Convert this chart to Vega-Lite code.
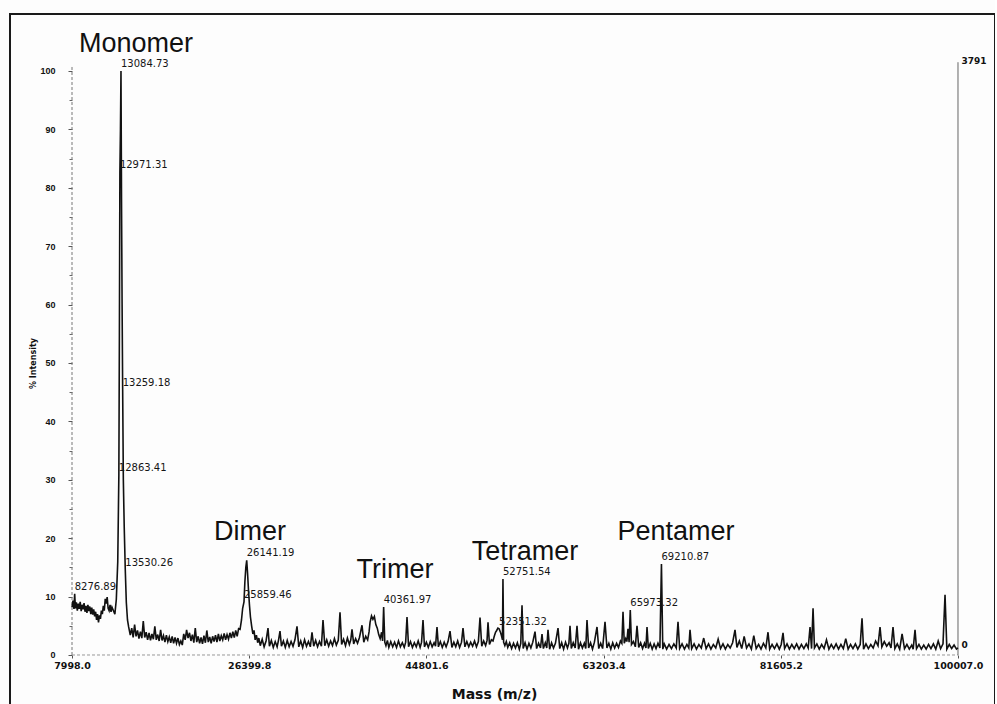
{
  "$schema": "https://vega.github.io/schema/vega-lite/v6.json",
  "width": 985,
  "height": 692,
  "autosize": "none",
  "padding": {"left": 10, "top": 14, "right": 0, "bottom": 0},
  "background": "#fdfdfd",
  "config": {
    "view": {"stroke": "#1a1a1a", "strokeWidth": 2},
    "axis": {"grid": false, "domain": false}
  },
  "datasets": {
    "spectrum": [
      {"mass":8000,"intensity":8.2},{"mass":8100,"intensity":9.3},{"mass":8200,"intensity":7.9},{"mass":8276.89,"intensity":10.5},{"mass":8350,"intensity":8.0},{"mass":8450,"intensity":9.0},{"mass":8550,"intensity":7.6},{"mass":8650,"intensity":8.8},{"mass":8750,"intensity":7.9},{"mass":8850,"intensity":9.1},{"mass":8950,"intensity":7.5},{"mass":9050,"intensity":8.6},{"mass":9150,"intensity":7.8},{"mass":9250,"intensity":8.9},{"mass":9350,"intensity":7.4},{"mass":9450,"intensity":8.4},{"mass":9550,"intensity":7.2},{"mass":9650,"intensity":8.6},{"mass":9750,"intensity":7.5},{"mass":9850,"intensity":8.3},{"mass":9950,"intensity":7.0},{"mass":10050,"intensity":8.1},{"mass":10150,"intensity":6.9},{"mass":10250,"intensity":7.8},{"mass":10350,"intensity":6.6},{"mass":10450,"intensity":7.4},{"mass":10550,"intensity":6.0},{"mass":10650,"intensity":7.0},{"mass":10750,"intensity":5.6},{"mass":10850,"intensity":6.8},{"mass":10950,"intensity":6.2},{"mass":11050,"intensity":7.6},{"mass":11150,"intensity":7.0},{"mass":11250,"intensity":8.4},{"mass":11350,"intensity":7.6},{"mass":11450,"intensity":9.6},{"mass":11550,"intensity":8.8},{"mass":11650,"intensity":9.9},{"mass":11750,"intensity":8.0},{"mass":11850,"intensity":7.6},{"mass":11950,"intensity":8.6},{"mass":12050,"intensity":7.4},{"mass":12150,"intensity":8.2},{"mass":12250,"intensity":7.8},
      {"mass":12450,"intensity":7.0},{"mass":12600,"intensity":9.5},{"mass":12750,"intensity":16},{"mass":12863.41,"intensity":30.8},{"mass":12920,"intensity":55},{"mass":12971.31,"intensity":82.7},{"mass":13030,"intensity":90},{"mass":13084.73,"intensity":100},{"mass":13140,"intensity":78},{"mass":13200,"intensity":60},{"mass":13259.18,"intensity":45.4},{"mass":13330,"intensity":30},{"mass":13420,"intensity":22},{"mass":13530.26,"intensity":14.6},{"mass":13640,"intensity":9},{"mass":13760,"intensity":6},{"mass":13880,"intensity":4.8},
      {"mass":14050,"intensity":3.4},{"mass":14200,"intensity":4.6},{"mass":14350,"intensity":3.0},{"mass":14500,"intensity":5.2},{"mass":14650,"intensity":3.2},{"mass":14800,"intensity":4.2},{"mass":14950,"intensity":2.8},{"mass":15100,"intensity":4.0},{"mass":15250,"intensity":2.9},{"mass":15400,"intensity":5.8},{"mass":15550,"intensity":3.0},{"mass":15700,"intensity":3.9},{"mass":15850,"intensity":2.6},{"mass":16000,"intensity":3.8},{"mass":16150,"intensity":2.5},{"mass":16300,"intensity":3.6},{"mass":16450,"intensity":2.7},{"mass":16600,"intensity":4.9},{"mass":16750,"intensity":2.6},{"mass":16900,"intensity":3.5},{"mass":17050,"intensity":2.4},{"mass":17200,"intensity":4.3},{"mass":17350,"intensity":2.5},{"mass":17500,"intensity":3.3},{"mass":17650,"intensity":2.2},{"mass":17800,"intensity":3.4},{"mass":17950,"intensity":2.3},{"mass":18100,"intensity":3.1},{"mass":18250,"intensity":2.1},{"mass":18400,"intensity":3.2},{"mass":18550,"intensity":2.0},{"mass":18700,"intensity":3.0},{"mass":18850,"intensity":2.0},{"mass":19000,"intensity":2.9},{"mass":19150,"intensity":1.8},{"mass":19300,"intensity":2.4},{"mass":19450,"intensity":1.7},{"mass":19600,"intensity":3.6},{"mass":19750,"intensity":2.6},{"mass":19900,"intensity":4.3},{"mass":20050,"intensity":2.9},{"mass":20200,"intensity":3.8},{"mass":20350,"intensity":2.4},{"mass":20500,"intensity":3.5},{"mass":20650,"intensity":2.1},{"mass":20800,"intensity":4.6},{"mass":20950,"intensity":2.2},{"mass":21100,"intensity":3.2},{"mass":21250,"intensity":2.0},{"mass":21400,"intensity":3.0},{"mass":21550,"intensity":1.9},{"mass":21700,"intensity":3.3},{"mass":21850,"intensity":2.1},{"mass":22000,"intensity":4.2},{"mass":22150,"intensity":2.2},{"mass":22300,"intensity":3.1},{"mass":22450,"intensity":2.0},{"mass":22600,"intensity":3.2},{"mass":22750,"intensity":2.3},{"mass":22900,"intensity":3.4},{"mass":23050,"intensity":2.2},{"mass":23200,"intensity":3.6},{"mass":23350,"intensity":2.4},{"mass":23500,"intensity":3.3},{"mass":23650,"intensity":2.6},{"mass":23800,"intensity":3.7},{"mass":23950,"intensity":2.6},{"mass":24100,"intensity":3.5},{"mass":24250,"intensity":2.7},{"mass":24400,"intensity":3.8},{"mass":24550,"intensity":2.9},{"mass":24700,"intensity":4.0},{"mass":24850,"intensity":3.0},{"mass":25000,"intensity":4.2},{"mass":25150,"intensity":3.2},{"mass":25300,"intensity":4.5},
      {"mass":25450,"intensity":4.4},{"mass":25600,"intensity":6.0},{"mass":25720,"intensity":8.0},{"mass":25859.46,"intensity":9.1},{"mass":25950,"intensity":12.5},{"mass":26050,"intensity":15.0},{"mass":26141.19,"intensity":16.2},{"mass":26230,"intensity":14.0},{"mass":26330,"intensity":11.0},{"mass":26430,"intensity":8.5},{"mass":26530,"intensity":6.5},{"mass":26650,"intensity":5.0},{"mass":26780,"intensity":3.6},{"mass":26900,"intensity":4.2},{"mass":27020,"intensity":2.6},{"mass":27150,"intensity":3.4},{"mass":27280,"intensity":2.1},{"mass":27400,"intensity":2.9},
      {"mass":27550,"intensity":1.6},{"mass":27750,"intensity":2.7},{"mass":27950,"intensity":1.4},{"mass":28150,"intensity":2.4},{"mass":28352,"intensity":4.6},{"mass":28500,"intensity":1.5},{"mass":28700,"intensity":2.5},{"mass":28900,"intensity":1.3},{"mass":29100,"intensity":2.3},{"mass":29300,"intensity":1.4},{"mass":29450,"intensity":2.6},{"mass":29598,"intensity":4.1},{"mass":29750,"intensity":1.5},{"mass":29950,"intensity":2.4},{"mass":30150,"intensity":1.3},{"mass":30350,"intensity":2.5},{"mass":30550,"intensity":1.4},{"mass":30750,"intensity":2.3},{"mass":30950,"intensity":1.5},{"mass":31150,"intensity":2.6},{"mass":31364,"intensity":4.9},{"mass":31550,"intensity":1.4},{"mass":31750,"intensity":2.4},{"mass":31950,"intensity":1.3},{"mass":32150,"intensity":2.6},{"mass":32350,"intensity":1.5},{"mass":32550,"intensity":2.3},{"mass":32750,"intensity":1.4},{"mass":32922,"intensity":3.9},{"mass":33100,"intensity":1.5},{"mass":33300,"intensity":2.5},{"mass":33500,"intensity":1.4},{"mass":33700,"intensity":2.3},{"mass":33900,"intensity":1.5},{"mass":34064,"intensity":6.0},{"mass":34250,"intensity":1.6},{"mass":34450,"intensity":2.6},{"mass":34650,"intensity":1.5},{"mass":34850,"intensity":2.4},{"mass":35050,"intensity":1.6},{"mass":35250,"intensity":2.8},{"mass":35450,"intensity":1.7},{"mass":35650,"intensity":2.5},{"mass":35830,"intensity":7.3},{"mass":36000,"intensity":1.8},{"mass":36200,"intensity":2.7},{"mass":36400,"intensity":1.6},{"mass":36600,"intensity":2.9},{"mass":36800,"intensity":1.8},{"mass":36950,"intensity":2.6},{"mass":37076,"intensity":4.4},{"mass":37250,"intensity":1.9},{"mass":37450,"intensity":2.8},{"mass":37650,"intensity":2.0},{"mass":37850,"intensity":3.0},{"mass":38115,"intensity":5.1},{"mass":38300,"intensity":2.2},{"mass":38500,"intensity":3.2},{"mass":38700,"intensity":2.6},
      {"mass":38850,"intensity":4.0},{"mass":38950,"intensity":5.6},{"mass":39100,"intensity":6.7},{"mass":39250,"intensity":6.1},{"mass":39400,"intensity":6.6},{"mass":39550,"intensity":5.2},{"mass":39700,"intensity":4.6},{"mass":39850,"intensity":3.5},{"mass":40000,"intensity":2.8},{"mass":40150,"intensity":3.9},{"mass":40250,"intensity":2.4},{"mass":40361.97,"intensity":8.2},{"mass":40480,"intensity":2.2},{"mass":40600,"intensity":1.6},{"mass":40750,"intensity":2.5},{"mass":40900,"intensity":1.3},
      {"mass":41100,"intensity":2.3},{"mass":41300,"intensity":1.4},{"mass":41500,"intensity":2.2},{"mass":41700,"intensity":1.3},{"mass":41900,"intensity":2.4},{"mass":42100,"intensity":1.4},{"mass":42300,"intensity":2.1},{"mass":42500,"intensity":1.3},{"mass":42650,"intensity":2.2},{"mass":42788,"intensity":6.5},{"mass":42950,"intensity":1.4},{"mass":43150,"intensity":2.3},{"mass":43350,"intensity":1.3},{"mass":43550,"intensity":2.1},{"mass":43750,"intensity":1.4},{"mass":43950,"intensity":2.4},{"mass":44150,"intensity":1.3},{"mass":44300,"intensity":2.2},{"mass":44450,"intensity":6.0},{"mass":44600,"intensity":1.4},{"mass":44800,"intensity":2.2},{"mass":45000,"intensity":1.3},{"mass":45200,"intensity":2.3},{"mass":45400,"intensity":1.4},{"mass":45600,"intensity":2.1},{"mass":45750,"intensity":1.5},{"mass":45903,"intensity":4.8},{"mass":46050,"intensity":1.4},{"mass":46250,"intensity":2.3},{"mass":46450,"intensity":1.3},{"mass":46650,"intensity":2.2},{"mass":46850,"intensity":1.4},{"mass":47050,"intensity":2.3},{"mass":47253,"intensity":4.1},{"mass":47450,"intensity":1.3},{"mass":47650,"intensity":2.2},{"mass":47850,"intensity":1.4},{"mass":48050,"intensity":2.4},{"mass":48250,"intensity":1.3},{"mass":48450,"intensity":2.2},{"mass":48603,"intensity":4.6},{"mass":48800,"intensity":1.4},{"mass":49000,"intensity":2.3},{"mass":49200,"intensity":1.4},{"mass":49400,"intensity":2.2},{"mass":49600,"intensity":1.5},{"mass":49800,"intensity":2.4},{"mass":50000,"intensity":1.4},{"mass":50200,"intensity":2.3},{"mass":50369,"intensity":6.4},{"mass":50550,"intensity":1.5},{"mass":50750,"intensity":2.4},{"mass":50950,"intensity":1.6},{"mass":51100,"intensity":2.5},{"mass":51200,"intensity":5.6},{"mass":51350,"intensity":1.8},{"mass":51550,"intensity":2.6},
      {"mass":51720,"intensity":2.4},{"mass":51850,"intensity":3.2},{"mass":51980,"intensity":3.9},{"mass":52100,"intensity":4.2},{"mass":52230,"intensity":4.6},{"mass":52351.32,"intensity":4.5},{"mass":52470,"intensity":4.0},{"mass":52600,"intensity":3.3},{"mass":52700,"intensity":2.6},{"mass":52751.54,"intensity":13.0},{"mass":52820,"intensity":2.2},{"mass":52950,"intensity":1.6},{"mass":53100,"intensity":2.3},{"mass":53250,"intensity":1.3},
      {"mass":53450,"intensity":2.1},{"mass":53650,"intensity":1.1},{"mass":53850,"intensity":2.0},{"mass":54050,"intensity":1.2},{"mass":54250,"intensity":2.1},{"mass":54450,"intensity":1.0},{"mass":54600,"intensity":2.0},{"mass":54731,"intensity":8.5},{"mass":54850,"intensity":1.1},{"mass":55050,"intensity":2.1},{"mass":55250,"intensity":1.0},{"mass":55450,"intensity":2.0},{"mass":55650,"intensity":1.2},{"mass":55850,"intensity":2.2},{"mass":56081,"intensity":4.0},{"mass":56250,"intensity":1.1},{"mass":56450,"intensity":2.0},{"mass":56650,"intensity":1.2},{"mass":56808,"intensity":3.6},{"mass":56950,"intensity":1.1},{"mass":57150,"intensity":2.1},{"mass":57300,"intensity":1.2},{"mass":57430,"intensity":4.3},{"mass":57600,"intensity":1.0},{"mass":57800,"intensity":2.1},{"mass":58000,"intensity":1.2},{"mass":58200,"intensity":2.0},{"mass":58469,"intensity":4.6},{"mass":58650,"intensity":1.1},{"mass":58850,"intensity":2.1},{"mass":59050,"intensity":1.0},{"mass":59250,"intensity":2.2},{"mass":59450,"intensity":1.2},{"mass":59600,"intensity":2.0},{"mass":59715,"intensity":5.0},{"mass":59850,"intensity":1.1},{"mass":60050,"intensity":2.1},{"mass":60250,"intensity":1.2},{"mass":60442,"intensity":5.0},{"mass":60600,"intensity":1.0},{"mass":60800,"intensity":2.1},{"mass":61000,"intensity":1.2},{"mass":61200,"intensity":2.0},{"mass":61350,"intensity":1.1},{"mass":61480,"intensity":6.0},{"mass":61650,"intensity":1.2},{"mass":61850,"intensity":2.1},{"mass":62050,"intensity":1.0},{"mass":62250,"intensity":2.2},{"mass":62519,"intensity":4.8},{"mass":62700,"intensity":1.1},{"mass":62900,"intensity":2.0},{"mass":63100,"intensity":1.1},{"mass":63350,"intensity":5.7},{"mass":63550,"intensity":1.2},{"mass":63750,"intensity":2.0},{"mass":63950,"intensity":1.0},{"mass":64150,"intensity":2.1},{"mass":64350,"intensity":1.2},{"mass":64550,"intensity":2.0},{"mass":64750,"intensity":1.3},{"mass":64950,"intensity":2.4},{"mass":65100,"intensity":2.0},{"mass":65219,"intensity":7.4},{"mass":65350,"intensity":2.0},{"mass":65500,"intensity":2.8},{"mass":65620,"intensity":2.3},{"mass":65738,"intensity":4.5},{"mass":65850,"intensity":2.2},{"mass":65973.32,"intensity":7.7},{"mass":66100,"intensity":1.8},{"mass":66300,"intensity":2.3},{"mass":66500,"intensity":1.4},{"mass":66673,"intensity":5.0},{"mass":66850,"intensity":1.3},{"mass":67050,"intensity":2.1},{"mass":67250,"intensity":1.1},{"mass":67450,"intensity":2.0},{"mass":67600,"intensity":1.2},{"mass":67712,"intensity":4.8},{"mass":67850,"intensity":1.1},{"mass":68050,"intensity":2.0},{"mass":68250,"intensity":1.0},{"mass":68450,"intensity":1.9},{"mass":68650,"intensity":1.1},{"mass":68850,"intensity":2.0},{"mass":69050,"intensity":1.2},{"mass":69210.87,"intensity":15.6},{"mass":69350,"intensity":1.0},
      {"mass":69500,"intensity":1.9},{"mass":69750,"intensity":1.0},{"mass":70000,"intensity":1.8},{"mass":70250,"intensity":1.1},{"mass":70500,"intensity":1.9},{"mass":70750,"intensity":1.2},{"mass":70931,"intensity":5.7},{"mass":71100,"intensity":1.1},{"mass":71350,"intensity":1.9},{"mass":71600,"intensity":1.0},{"mass":71850,"intensity":1.8},{"mass":72050,"intensity":1.2},{"mass":72177,"intensity":4.3},{"mass":72350,"intensity":1.1},{"mass":72600,"intensity":1.9},{"mass":72850,"intensity":1.0},{"mass":73100,"intensity":1.8},{"mass":73350,"intensity":1.2},{"mass":73600,"intensity":2.9},{"mass":73850,"intensity":1.1},{"mass":74100,"intensity":1.9},{"mass":74350,"intensity":1.0},{"mass":74600,"intensity":1.8},{"mass":74850,"intensity":1.2},{"mass":75100,"intensity":2.7},{"mass":75350,"intensity":1.1},{"mass":75600,"intensity":1.9},{"mass":75850,"intensity":1.0},{"mass":76100,"intensity":1.8},{"mass":76350,"intensity":1.2},{"mass":76600,"intensity":2.1},{"mass":76850,"intensity":4.3},{"mass":77050,"intensity":1.3},{"mass":77300,"intensity":2.4},{"mass":77550,"intensity":1.1},{"mass":77800,"intensity":3.2},{"mass":78050,"intensity":1.2},{"mass":78300,"intensity":1.9},{"mass":78550,"intensity":1.0},{"mass":78800,"intensity":3.3},{"mass":79050,"intensity":1.1},{"mass":79300,"intensity":1.8},{"mass":79550,"intensity":1.0},{"mass":79800,"intensity":2.0},{"mass":80050,"intensity":1.2},{"mass":80278,"intensity":3.9},{"mass":80450,"intensity":1.0},{"mass":80700,"intensity":1.8},{"mass":80950,"intensity":1.1},{"mass":81200,"intensity":1.9},{"mass":81450,"intensity":1.0},{"mass":81650,"intensity":1.8},{"mass":81836,"intensity":3.8},{"mass":82000,"intensity":1.1},{"mass":82250,"intensity":1.9},{"mass":82500,"intensity":1.0},{"mass":82750,"intensity":1.8},{"mass":83000,"intensity":1.1},{"mass":83250,"intensity":1.9},{"mass":83500,"intensity":1.0},{"mass":83750,"intensity":1.8},{"mass":84000,"intensity":1.1},{"mass":84250,"intensity":1.9},{"mass":84450,"intensity":1.2},{"mass":84642,"intensity":4.8},{"mass":84800,"intensity":1.1},{"mass":84954,"intensity":8.0},{"mass":85100,"intensity":1.2},{"mass":85350,"intensity":1.9},{"mass":85600,"intensity":1.0},{"mass":85850,"intensity":1.8},{"mass":86100,"intensity":1.1},{"mass":86350,"intensity":2.6},{"mass":86600,"intensity":1.0},{"mass":86850,"intensity":1.8},{"mass":87100,"intensity":1.1},{"mass":87350,"intensity":1.9},{"mass":87600,"intensity":1.0},{"mass":87850,"intensity":1.8},{"mass":88100,"intensity":1.1},{"mass":88350,"intensity":2.8},{"mass":88600,"intensity":1.0},{"mass":88850,"intensity":1.8},{"mass":89100,"intensity":1.1},{"mass":89350,"intensity":1.9},{"mass":89600,"intensity":1.0},{"mass":89850,"intensity":1.8},{"mass":90040,"intensity":6.3},{"mass":90200,"intensity":1.0},{"mass":90450,"intensity":1.9},{"mass":90700,"intensity":1.1},{"mass":90950,"intensity":1.8},{"mass":91200,"intensity":1.2},{"mass":91450,"intensity":2.4},{"mass":91700,"intensity":1.6},{"mass":91909,"intensity":4.8},{"mass":92100,"intensity":1.4},{"mass":92350,"intensity":2.3},{"mass":92600,"intensity":1.5},{"mass":92850,"intensity":2.1},{"mass":93050,"intensity":1.2},{"mass":93259,"intensity":4.8},{"mass":93450,"intensity":1.1},{"mass":93700,"intensity":1.9},{"mass":93950,"intensity":1.0},{"mass":94200,"intensity":3.6},{"mass":94450,"intensity":1.1},{"mass":94700,"intensity":1.8},{"mass":94950,"intensity":1.0},{"mass":95200,"intensity":1.7},{"mass":95350,"intensity":1.0},{"mass":95544,"intensity":4.3},{"mass":95700,"intensity":1.1},{"mass":95950,"intensity":1.8},{"mass":96200,"intensity":1.0},{"mass":96450,"intensity":1.7},{"mass":96700,"intensity":1.0},{"mass":96950,"intensity":1.8},{"mass":97200,"intensity":1.1},{"mass":97450,"intensity":1.9},{"mass":97700,"intensity":1.0},{"mass":97950,"intensity":2.4},{"mass":98200,"intensity":1.1},{"mass":98450,"intensity":1.9},{"mass":98660,"intensity":10.3},{"mass":98850,"intensity":1.0},{"mass":99100,"intensity":1.8},{"mass":99350,"intensity":1.1},{"mass":99600,"intensity":1.7},{"mass":99850,"intensity":1.0},{"mass":100000,"intensity":1.2}
    ],
    "peaks": [
      {"mass":13084.73,"intensity":100,"label":"13084.73"},
      {"mass":12971.31,"intensity":82.7,"label":"12971.31"},
      {"mass":13259.18,"intensity":45.4,"label":"13259.18"},
      {"mass":12863.41,"intensity":30.8,"label":"12863.41"},
      {"mass":13530.26,"intensity":14.6,"label":"13530.26"},
      {"mass":8276.89,"intensity":10.5,"label":"8276.89"},
      {"mass":26141.19,"intensity":16.2,"label":"26141.19"},
      {"mass":25859.46,"intensity":9.1,"label":"25859.46"},
      {"mass":40361.97,"intensity":8.2,"label":"40361.97"},
      {"mass":52751.54,"intensity":13.0,"label":"52751.54"},
      {"mass":52351.32,"intensity":4.5,"label":"52351.32"},
      {"mass":69210.87,"intensity":15.6,"label":"69210.87"},
      {"mass":65973.32,"intensity":7.7,"label":"65973.32"}
    ],
    "species": [
      {"species":"Monomer","mass":14644,"intensity":103.25},
      {"species":"Dimer","mass":26483,"intensity":19.69},
      {"species":"Trimer","mass":41541,"intensity":13.18},
      {"species":"Tetramer","mass":55042,"intensity":16.27},
      {"species":"Pentamer","mass":70724,"intensity":19.69}
    ]
  },
  "encoding": {
    "x": {
      "field": "mass",
      "type": "quantitative",
      "scale": {"domain": [1559.4, 103849.4], "nice": false, "zero": false},
      "axis": {
        "orient": "bottom",
        "offset": -51,
        "values": [7998.0, 26399.8, 44801.6, 63203.4, 81605.2, 100007.0],
        "format": ".1f",
        "tickSize": 3,
        "tickColor": "#555",
        "labelFont": "DejaVu Sans",
        "labelFontWeight": "bold",
        "labelFontSize": 9.5,
        "labelColor": "#111",
        "labelPadding": 2,
        "labelFlush": false,
        "labelOverlap": false,
        "title": "Mass (m/z)",
        "titleFont": "DejaVu Sans",
        "titleFontWeight": "bold",
        "titleFontSize": 14,
        "titleColor": "#111",
        "titleX": 484,
        "titleY": 39,
        "titleBaseline": "middle"
      }
    }
  },
  "layer": [
    {
      "data": {"values": [{"mass": 7998, "low": 0, "high": 101}]},
      "mark": {"type": "rule", "stroke": "#777", "strokeWidth": 1, "strokeDash": [3, 2]},
      "encoding": {
        "y": {
          "field": "low", "type": "quantitative",
          "scale": {"domain": [-8.733, 109.76], "nice": false, "zero": false},
          "axis": {"orient": "left", "offset": -62, "values": [5, 15, 25, 35, 45, 55, 65, 75, 85, 95], "labels": false, "tickSize": 3, "tickColor": "#666", "title": null}
        },
        "y2": {"field": "high"}
      }
    },
    {
      "data": {"values": [{"mass": 7998, "end": 100007, "intensity": 0}]},
      "mark": {"type": "rule", "stroke": "#999", "strokeWidth": 1, "strokeDash": [3, 2]},
      "encoding": {
        "x2": {"field": "end"},
        "y": {"field": "intensity", "type": "quantitative", "scale": {"domain": [-8.733, 109.76], "nice": false, "zero": false}, "axis": null}
      }
    },
    {
      "data": {"values": [{"mass": 100007, "low": 0, "high": 3848}]},
      "mark": {"type": "rule", "stroke": "#666", "strokeWidth": 1},
      "encoding": {
        "y": {
          "field": "low", "type": "quantitative",
          "scale": {"domain": [-331.1, 4161.0], "nice": false, "zero": false},
          "axis": {"orient": "right", "offset": -38, "values": [0, 3791], "format": "d", "tickSize": 0, "labelPadding": 4, "labelOffset": -10, "labelFont": "DejaVu Sans", "labelFontWeight": "bold", "labelFontSize": 9, "labelColor": "#111", "labelFlush": false, "title": null}
        },
        "y2": {"field": "high"}
      }
    },
    {
      "data": {"name": "spectrum"},
      "mark": {"type": "line", "stroke": "#111", "strokeWidth": 1.6, "strokeJoin": "miter", "interpolate": "linear"},
      "encoding": {
        "y": {
          "field": "intensity", "type": "quantitative",
          "scale": {"domain": [-8.733, 109.76], "nice": false, "zero": false},
          "axis": {
            "orient": "left",
            "offset": -62,
            "values": [0, 10, 20, 30, 40, 50, 60, 70, 80, 90, 100],
            "format": "d",
            "tickSize": 4,
            "tickColor": "#555",
            "labelFont": "Liberation Sans",
            "labelFontWeight": "bold",
            "labelFontSize": 9,
            "labelColor": "#111",
            "labelPadding": 13,
            "labelFlush": false,
            "title": "% Intensity",
            "titleFont": "DejaVu Sans",
            "titleFontWeight": "bold",
            "titleFontSize": 8,
            "titleColor": "#111",
            "titleX": -39,
            "titleY": 349,
            "titleBaseline": "middle"
          }
        }
      }
    },
    {
      "data": {"name": "peaks"},
      "mark": {"type": "text", "align": "left", "baseline": "middle", "dx": 0, "dy": -7, "font": "DejaVu Sans", "fontSize": 10, "fill": "#151515"},
      "encoding": {
        "y": {"field": "intensity", "type": "quantitative", "scale": {"domain": [-8.733, 109.76], "nice": false, "zero": false}, "axis": null},
        "text": {"field": "label"}
      }
    },
    {
      "data": {"name": "species"},
      "mark": {"type": "text", "align": "center", "baseline": "alphabetic", "font": "Liberation Sans", "fontSize": 27, "fill": "#111"},
      "encoding": {
        "y": {"field": "intensity", "type": "quantitative", "scale": {"domain": [-8.733, 109.76], "nice": false, "zero": false}, "axis": null},
        "text": {"field": "species"}
      }
    }
  ],
  "resolve": {"scale": {"y": "independent"}, "axis": {"y": "independent"}}
}
